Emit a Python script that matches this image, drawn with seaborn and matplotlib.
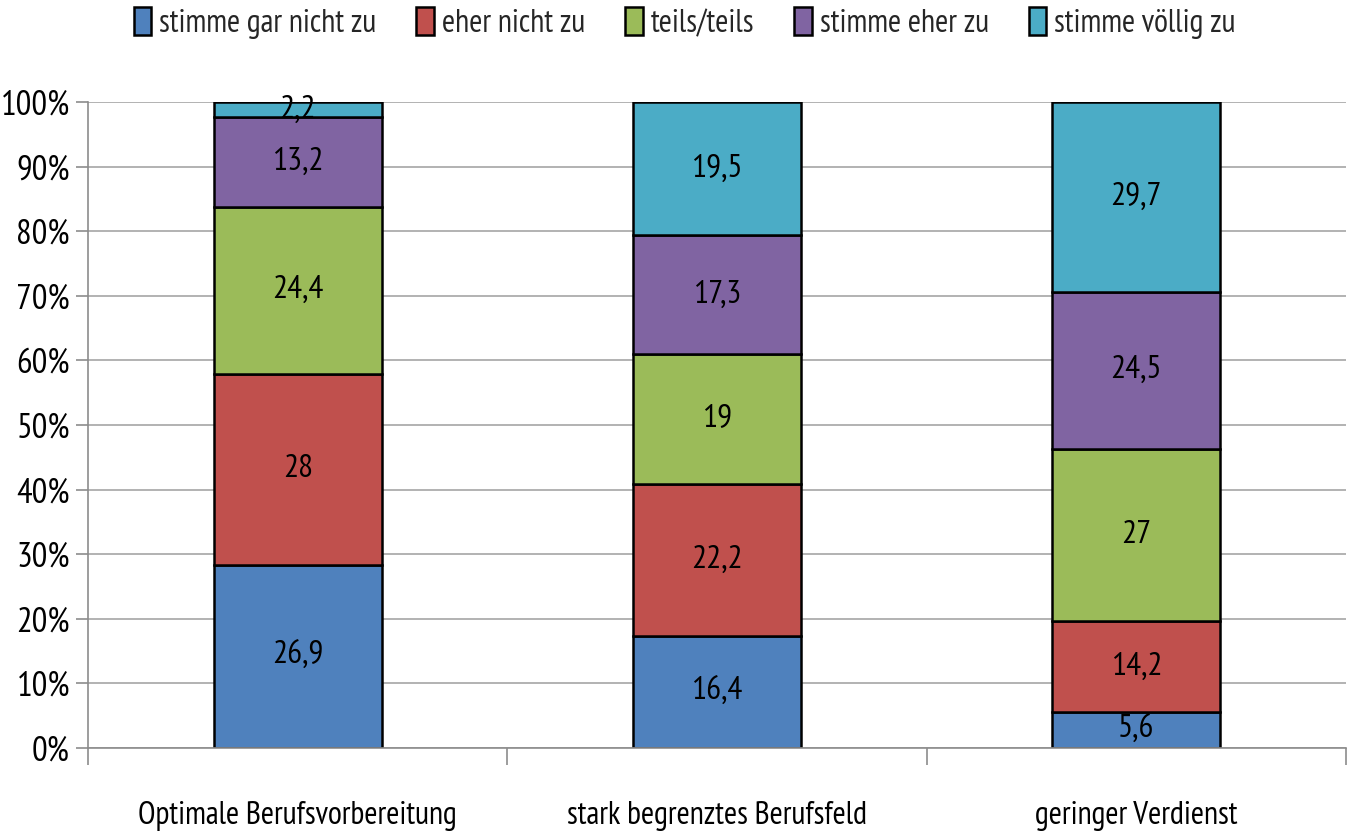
import numpy as np
import matplotlib
matplotlib.use("Agg")
import matplotlib.pyplot as plt
import seaborn as sns
from matplotlib.ticker import FuncFormatter, FixedLocator

# data
categories = ["Optimale Berufsvorbereitung", "stark begrenztes Berufsfeld", "geringer Verdienst"]
levels = ["stimme gar nicht zu", "eher nicht zu", "teils/teils", "stimme eher zu", "stimme völlig zu"]
gar_nicht = [26.9, 16.4, 5.6]
eher_nicht = [28, 22.2, 14.2]
teils = [24.4, 19, 27]
eher_zu = [13.2, 17.3, 24.5]
voellig = [2.2, 19.5, 29.7]
colors = ["#4F81BD", "#C0504D", "#9BBB59", "#8064A2", "#4BACC6"]

series = [gar_nicht, eher_nicht, teils, eher_zu, voellig]
totals = np.sum(series, axis=0)

sns.set_style("white")
plt.rcParams["font.family"] = ["PT Sans Narrow", "DejaVu Sans"]

fig = plt.figure(figsize=(13.56, 8.34), dpi=100)
ax = fig.add_axes([0.0649, 0.1031, 0.9277, 0.7746])

ax.yaxis.grid(True, color="#A6A6A6", linewidth=1.2)
ax.set_axisbelow(True)

# stacked 100% bars
cum = np.zeros(len(categories))
for name, vals, col in zip(levels, series, colors):
    share = np.array(vals) / totals * 100
    sns.barplot(x=categories, y=share, bottom=cum, color=col, width=0.4, saturation=1,
                edgecolor="black", linewidth=1.8, label=name, ax=ax)
    for i, v in enumerate(vals):
        txt = f"{v:g}".replace(".", ",")
        ax.text(i, cum[i] + share[i] / 2, txt, ha="center", va="center",
                fontsize=24, color="black")
    cum += share

ax.set_ylim(0, 100)
ax.set_xlim(-0.5, 2.5)
ax.set_yticks(np.arange(0, 101, 10))
ax.yaxis.set_major_formatter(FuncFormatter(lambda v, p: f"{v:.0f}%"))
ax.tick_params(axis="y", labelsize=25, length=9, color="#8C8C8C", width=1.2, left=True, pad=4,
               labelcolor="black")
ax.tick_params(axis="x", which="major", labelsize=23, length=0, pad=38, labelcolor="black")
ax.xaxis.set_minor_locator(FixedLocator([-0.5, 0.5, 1.5, 2.5]))
ax.tick_params(axis="x", which="minor", length=12, color="#8C8C8C", width=1.2, bottom=True)

for s in ["top", "right"]:
    ax.spines[s].set_visible(False)
for s in ["left", "bottom"]:
    ax.spines[s].set_color("#8C8C8C")
    ax.spines[s].set_linewidth(1.2)
ax.set_xlabel("")
ax.set_ylabel("")

handles, labels = ax.get_legend_handles_labels()
ax.legend_ = None
fig.legend(handles, labels, loc="center", bbox_to_anchor=(0.505, 0.972), ncol=5, frameon=False,
           fontsize=23, handlelength=0.55, handleheight=0.95, handletextpad=0.25,
           columnspacing=1.25)

fig.savefig("out.png", dpi=100)
